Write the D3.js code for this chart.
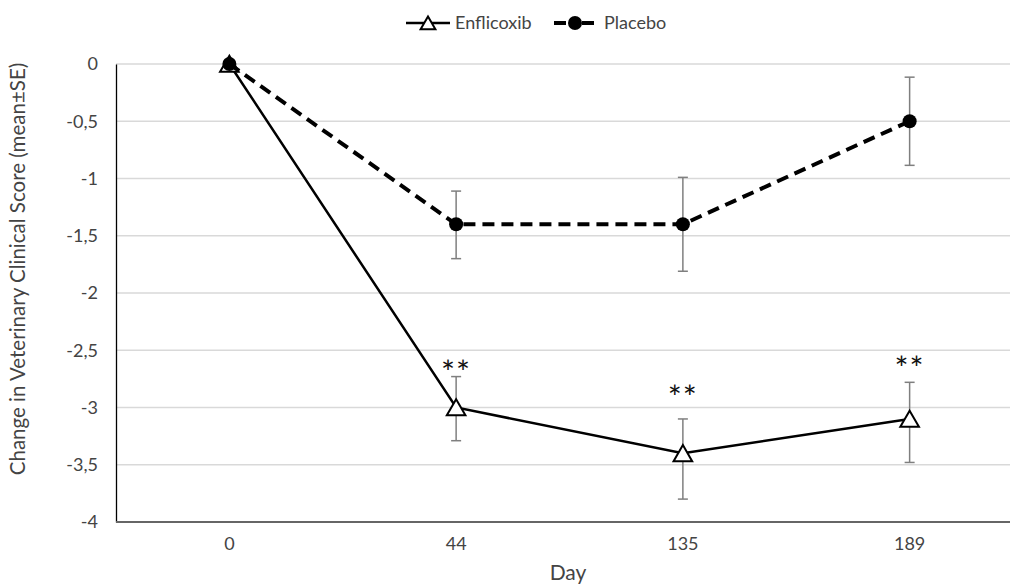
<!DOCTYPE html>
<html><head><meta charset="utf-8">
<script src="https://cdn.jsdelivr.net/npm/d3@7"></script>
<style>body{margin:0;background:#fff}svg{display:block}text{font-family:Lato,"Open Sans",sans-serif}</style>
</head><body><svg id="c" width="1010" height="584"></svg>
<script>
const days = ["0","44","135","189"];
const enflicoxib = [0, -3.0, -3.4, -3.1];
const enflicoxibPlus = [0, 0.27, 0.30, 0.32];
const enflicoxibMinus = [0, 0.29, 0.40, 0.38];
const placebo = [0, -1.4, -1.4, -0.5];
const placeboPlus = [0, 0.29, 0.41, 0.385];
const placeboMinus = [0, 0.30, 0.41, 0.385];
const yTicks = [0, -0.5, -1, -1.5, -2, -2.5, -3, -3.5, -4];
const sigMarks = [{day:"44", y:-2.63, label:"**"},{day:"135", y:-2.85, label:"**"},{day:"189", y:-2.59, label:"**"}];

const svg = d3.select("#c");
const x = d3.scaleBand().domain(days).range([116, 1023]);
const y = d3.scaleLinear().domain([-4, 0]).range([522, 64]);
const cx = d => x(d) + x.bandwidth()/2;
const fmt = v => String(v).replace(".", ",");

// gridlines
svg.append("g").selectAll("line").data(yTicks.filter(t => t !== -4)).join("line")
  .attr("x1", 116).attr("x2", 1010).attr("y1", d => y(d)).attr("y2", d => y(d))
  .attr("stroke", "#d9d9d9").attr("stroke-width", 1.3);

// y axis
const ya = svg.append("g").attr("transform", "translate(116,0)")
  .call(d3.axisLeft(y).tickValues(yTicks).tickFormat(fmt).tickSize(0).tickPadding(18));
ya.select(".domain").attr("stroke", "#000").attr("stroke-width", 1.3);
ya.selectAll("text").attr("font-size", 18).attr("fill", "#444");

// x axis
const xa = svg.append("g").attr("transform", "translate(0,522)")
  .call(d3.axisBottom(x).tickSize(0).tickPadding(15));
xa.select(".domain").remove();
svg.append("line").attr("x1", 116).attr("x2", 1010).attr("y1", 522).attr("y2", 522)
  .attr("stroke", "#666").attr("stroke-width", 2);
xa.selectAll("text").attr("font-size", 18).attr("fill", "#444");

// titles
svg.append("text").attr("x", 568).attr("y", 580).attr("text-anchor", "middle")
  .attr("font-size", 21).attr("fill", "#444").text("Day");
svg.append("text").attr("transform", "translate(25,269) rotate(-90)").attr("text-anchor", "middle")
  .attr("font-size", 20.5).attr("fill", "#444").text("Change in Veterinary Clinical Score (mean±SE)");

// error bars
function errBars(vals, plus, minus) {
  const g = svg.append("g");
  days.forEach((d, i) => {
    if (plus[i] === 0 && minus[i] === 0) return;
    const X = cx(d), y1 = y(vals[i] + plus[i]), y2 = y(vals[i] - minus[i]);
    g.append("line").attr("x1", X).attr("x2", X).attr("y1", y1).attr("y2", y2).attr("stroke", "#7f7f7f").attr("stroke-width", 1.5);
    [y1, y2].forEach(yy => g.append("line").attr("x1", X-5).attr("x2", X+5).attr("y1", yy).attr("y2", yy).attr("stroke", "#7f7f7f").attr("stroke-width", 1.5));
  });
}
errBars(enflicoxib, enflicoxibPlus, enflicoxibMinus);
errBars(placebo, placeboPlus, placeboMinus);

const line = d3.line().x((v, i) => cx(days[i])).y(v => y(v));
const tri = d3.symbol().type(d3.symbolTriangle).size(150);

// Enflicoxib
svg.append("path").attr("d", line(enflicoxib)).attr("fill", "none").attr("stroke", "#000").attr("stroke-width", 2.5);
svg.append("g").selectAll("path").data(enflicoxib).join("path")
  .attr("d", tri).attr("transform", (v, i) => `translate(${cx(days[i])},${y(v) + 2.5})`)
  .attr("fill", "#fff").attr("stroke", "#000").attr("stroke-width", 2);

// Placebo
svg.append("path").attr("d", line(placebo)).attr("fill", "none").attr("stroke", "#000").attr("stroke-width", 4).attr("stroke-dasharray", "12,7");
svg.append("g").selectAll("circle").data(placebo).join("circle")
  .attr("cx", (v, i) => cx(days[i])).attr("cy", v => y(v)).attr("r", 7).attr("fill", "#000");

// significance
svg.append("g").selectAll("text").data(sigMarks).join("text")
  .attr("x", d => cx(d.day)).attr("y", d => y(d.y) + 19).attr("text-anchor", "middle")
  .attr("font-family", "'Liberation Serif',serif").attr("font-size", 33).attr("letter-spacing", 1).attr("fill", "#111").text(d => d.label);

// legend
const lg = svg.append("g");
lg.append("line").attr("x1", 406).attr("x2", 450).attr("y1", 23).attr("y2", 23).attr("stroke", "#000").attr("stroke-width", 2.5);
lg.append("path").attr("d", d3.symbol().type(d3.symbolTriangle).size(95)).attr("transform", "translate(428,25)").attr("fill", "#fff").attr("stroke", "#000").attr("stroke-width", 2);
lg.append("text").attr("x", 455).attr("y", 29).attr("font-size", 18).attr("fill", "#444").text("Enflicoxib");
lg.append("line").attr("x1", 554).attr("x2", 594).attr("y1", 23).attr("y2", 23).attr("stroke", "#000").attr("stroke-width", 4).attr("stroke-dasharray", "12,16");
lg.append("circle").attr("cx", 575).attr("cy", 23).attr("r", 7).attr("fill", "#000");
lg.append("text").attr("x", 604).attr("y", 29).attr("font-size", 18).attr("fill", "#444").text("Placebo");
</script></body></html>
